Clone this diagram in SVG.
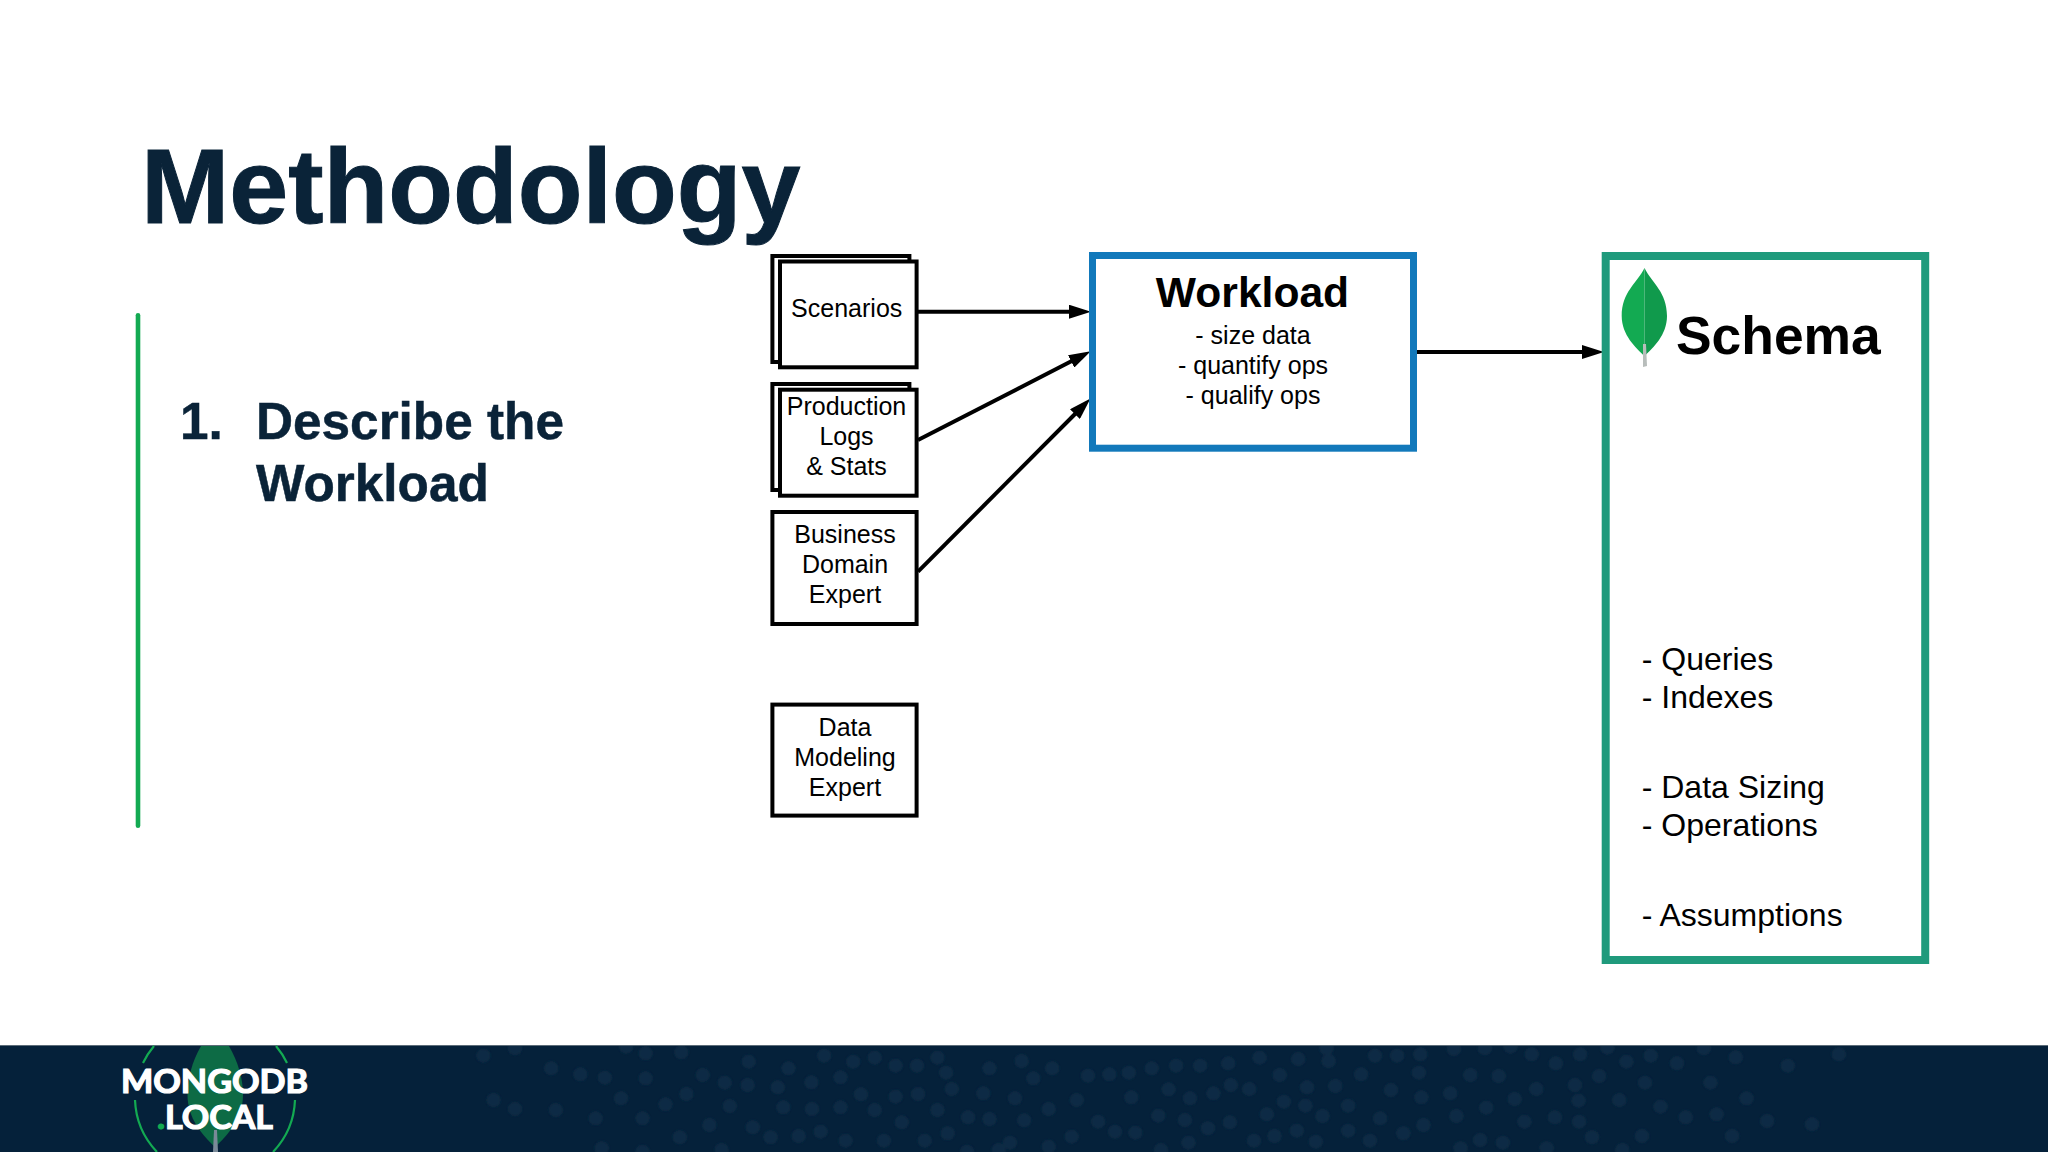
<svg xmlns="http://www.w3.org/2000/svg" width="2048" height="1152" viewBox="0 0 2048 1152">
<style>
text{font-family:"Liberation Sans",Arial,sans-serif;fill:#000}
.n{fill:#fff;stroke:#000;stroke-width:4}
.l{font-size:25px;text-anchor:middle}
.h{font-size:51.3px;font-weight:700;fill:#0a2338;stroke:#0a2338;stroke-width:.5}
.s{font-size:32px}
.c{fill:none;stroke:#000;stroke-width:4}
.a{marker-end:url(#arrow)}
.ring{fill:none;stroke:#13aa52;stroke-width:2.2}
.lg{font-family:Lato,"Open Sans",sans-serif;font-weight:700;font-size:32px;fill:#fff;stroke:#fff;stroke-width:1.2}
</style>
<defs>
<marker id="arrow" markerUnits="userSpaceOnUse" markerWidth="22" markerHeight="14" viewBox="0 0 22 14" refX="10" refY="7" orient="auto"><path d="M0 0L22 7L0 14Z" fill="#000"/></marker>
<ellipse id="d" rx="14" ry="21" fill="#0f2b44"/>
<filter id="soft" x="-5%" y="-20%" width="110%" height="140%"><feGaussianBlur stdDeviation="0.8"/></filter>
<clipPath id="foot"><rect x="0" y="1046" width="2048" height="106"/></clipPath>
</defs>
<rect width="2048" height="1152" fill="#fff"/>
<g id="title"><text x="141" y="223" font-size="106" font-weight="700" style="fill:#0a2338;stroke:#0a2338;stroke-width:1">Methodology</text></g>
<rect id="accent-bar" x="135.7" y="313" width="4.6" height="515" rx="2.3" fill="#13aa52"/>
<g id="step-text">
<text class="h" x="180" y="438.7">1.</text>
<text class="h" x="256" y="438.7">Describe the</text>
<text class="h" x="256" y="501">Workload</text>
</g>
<g id="connectors">
<line class="c a" x1="918" y1="311.7" x2="1079" y2="311.7"/>
<line class="c a" x1="918" y1="440" x2="1080" y2="356.8"/>
<line class="c a" x1="918" y1="571.7" x2="1082" y2="407"/>
<line class="c a" x1="1417" y1="352" x2="1592" y2="352"/>
</g>
<g id="node-scenarios">
<rect class="n" x="772.4" y="256" width="137" height="106"/>
<rect class="n" x="780" y="261.5" width="136.6" height="105.8"/>
<text class="l" x="846.7" y="317">Scenarios</text>
</g>
<g id="node-production">
<rect class="n" x="772.4" y="384" width="137" height="106"/>
<rect class="n" x="780" y="389.7" width="136.6" height="106"/>
<text class="l" x="846.5" y="415">Production</text>
<text class="l" x="846.5" y="445">Logs</text>
<text class="l" x="846.5" y="475">&amp; Stats</text>
</g>
<g id="node-business">
<rect class="n" x="772.4" y="512" width="144.2" height="112"/>
<text class="l" x="845" y="542.7">Business</text>
<text class="l" x="845" y="572.7">Domain</text>
<text class="l" x="845" y="602.7">Expert</text>
</g>
<g id="node-data-modeling">
<rect class="n" x="772.4" y="704.6" width="144.2" height="111"/>
<text class="l" x="845" y="735.5">Data</text>
<text class="l" x="845" y="765.5">Modeling</text>
<text class="l" x="845" y="795.5">Expert</text>
</g>
<g id="node-workload">
<rect x="1092.5" y="255.5" width="321" height="192.7" fill="#fff" stroke="#1279bb" stroke-width="7"/>
<text x="1252.5" y="306.7" font-size="42.6" font-weight="700" text-anchor="middle">Workload</text>
<text class="l" x="1253" y="344.3">- size data</text>
<text class="l" x="1253" y="374.3">- quantify ops</text>
<text class="l" x="1253" y="404.3">- qualify ops</text>
</g>
<g id="node-schema">
<rect x="1605.7" y="256" width="319.5" height="704" fill="#fff" stroke="#1f9a7c" stroke-width="8"/>
<path d="M1644.5 268C1637 283 1621.7 292 1621.7 316C1621.7 335 1636 348 1644.5 356Z" fill="#13aa52"/>
<path d="M1644.5 268C1652 283 1667 292 1667 316C1667 335 1653 348 1644.5 356Z" fill="#109a4c"/>
<path d="M1643 344L1646 344L1647 366L1643 367Z" fill="#b8bdbb"/>
<text x="1676" y="353.5" font-size="53.4" font-weight="700">Schema</text>
<text class="s" x="1641.7" y="670">- Queries</text>
<text class="s" x="1641.7" y="708">- Indexes</text>
<text class="s" x="1641.7" y="797.7">- Data Sizing</text>
<text class="s" x="1641.7" y="835.7">- Operations</text>
<text class="s" x="1641.7" y="925.7">- Assumptions</text>
</g>
<g id="footer">
<rect x="0" y="1045" width="2048" height="107" fill="#05213a"/>
<rect x="0" y="1045" width="2048" height="1" fill="#5c6c78"/>
<g clip-path="url(#foot)" filter="url(#soft)">
<g transform="translate(440,1035) scale(.5102,.3333)">
<use href="#d" x="85" y="62"/><use href="#d" x="147" y="40"/><use href="#d" x="218" y="100"/><use href="#d" x="275" y="118"/><use href="#d" x="323" y="128"/><use href="#d" x="403" y="130"/><use href="#d" x="403" y="55"/><use href="#d" x="473" y="52"/><use href="#d" x="365" y="35"/><use href="#d" x="605" y="80"/><use href="#d" x="683" y="100"/><use href="#d" x="515" y="120"/><use href="#d" x="558" y="143"/><use href="#d" x="603" y="150"/><use href="#d" x="662" y="157"/><use href="#d" x="728" y="142"/><use href="#d" x="785" y="127"/><use href="#d" x="753" y="62"/><use href="#d" x="810" y="80"/><use href="#d" x="852" y="68"/><use href="#d" x="893" y="92"/><use href="#d" x="935" y="92"/><use href="#d" x="975" y="68"/><use href="#d" x="992" y="113"/><use href="#d" x="1077" y="100"/><use href="#d" x="1140" y="78"/><use href="#d" x="1200" y="100"/><use href="#d" x="1163" y="130"/><use href="#d" x="1270" y="122"/><use href="#d" x="1312" y="118"/><use href="#d" x="1350" y="113"/><use href="#d" x="1395" y="100"/><use href="#d" x="1443" y="92"/><use href="#d" x="1490" y="92"/><use href="#d" x="1545" y="85"/><use href="#d" x="105" y="195"/><use href="#d" x="147" y="222"/><use href="#d" x="227" y="225"/><use href="#d" x="305" y="250"/><use href="#d" x="355" y="190"/><use href="#d" x="397" y="250"/><use href="#d" x="442" y="208"/><use href="#d" x="483" y="177"/><use href="#d" x="568" y="213"/><use href="#d" x="673" y="217"/><use href="#d" x="729" y="222"/><use href="#d" x="785" y="217"/><use href="#d" x="825" y="178"/><use href="#d" x="852" y="225"/><use href="#d" x="893" y="185"/><use href="#d" x="937" y="177"/><use href="#d" x="1003" y="162"/><use href="#d" x="1065" y="175"/><use href="#d" x="1127" y="190"/><use href="#d" x="975" y="225"/><use href="#d" x="905" y="262"/><use href="#d" x="1035" y="247"/><use href="#d" x="1077" y="252"/><use href="#d" x="1145" y="256"/><use href="#d" x="1193" y="222"/><use href="#d" x="1248" y="195"/><use href="#d" x="1290" y="260"/><use href="#d" x="1323" y="290"/><use href="#d" x="1363" y="293"/><use href="#d" x="1408" y="242"/><use href="#d" x="1460" y="255"/><use href="#d" x="1428" y="163"/><use href="#d" x="1470" y="190"/><use href="#d" x="1516" y="175"/><use href="#d" x="1355" y="187"/><use href="#d" x="1505" y="280"/><use href="#d" x="1548" y="262"/><use href="#d" x="528" y="270"/><use href="#d" x="613" y="277"/><use href="#d" x="648" y="307"/><use href="#d" x="703" y="303"/><use href="#d" x="746" y="290"/><use href="#d" x="795" y="317"/><use href="#d" x="870" y="317"/><use href="#d" x="950" y="317"/><use href="#d" x="995" y="295"/><use href="#d" x="1117" y="323"/><use href="#d" x="1238" y="305"/><use href="#d" x="470" y="307"/><use href="#d" x="317" y="340"/><use href="#d" x="397" y="350"/><use href="#d" x="552" y="345"/><use href="#d" x="1467" y="323"/><use href="#d" x="1413" y="345"/><use href="#d" x="1193" y="335"/><use href="#d" x="1033" y="350"/><use href="#d" x="1095" y="345"/><use href="#d" x="1550" y="150"/>
</g>
<g transform="translate(1240,1035) scale(.5153,.3333)">
<use href="#d" x="38" y="68"/><use href="#d" x="113" y="72"/><use href="#d" x="172" y="78"/><use href="#d" x="262" y="62"/><use href="#d" x="305" y="62"/><use href="#d" x="350" y="58"/><use href="#d" x="415" y="42"/><use href="#d" x="475" y="40"/><use href="#d" x="525" y="35"/><use href="#d" x="566" y="58"/><use href="#d" x="613" y="85"/><use href="#d" x="660" y="58"/><use href="#d" x="750" y="80"/><use href="#d" x="797" y="62"/><use href="#d" x="848" y="85"/><use href="#d" x="962" y="67"/><use href="#d" x="1063" y="92"/><use href="#d" x="1162" y="58"/><use href="#d" x="900" y="40"/><use href="#d" x="713" y="38"/><use href="#d" x="77" y="120"/><use href="#d" x="235" y="118"/><use href="#d" x="347" y="113"/><use href="#d" x="447" y="120"/><use href="#d" x="502" y="123"/><use href="#d" x="697" y="123"/><use href="#d" x="18" y="162"/><use href="#d" x="130" y="157"/><use href="#d" x="185" y="153"/><use href="#d" x="293" y="165"/><use href="#d" x="352" y="187"/><use href="#d" x="408" y="175"/><use href="#d" x="575" y="162"/><use href="#d" x="650" y="150"/><use href="#d" x="786" y="143"/><use href="#d" x="913" y="143"/><use href="#d" x="85" y="200"/><use href="#d" x="127" y="212"/><use href="#d" x="210" y="212"/><use href="#d" x="533" y="192"/><use href="#d" x="657" y="197"/><use href="#d" x="736" y="195"/><use href="#d" x="983" y="190"/><use href="#d" x="478" y="218"/><use href="#d" x="816" y="215"/><use href="#d" x="52" y="238"/><use href="#d" x="160" y="243"/><use href="#d" x="272" y="250"/><use href="#d" x="420" y="243"/><use href="#d" x="356" y="270"/><use href="#d" x="552" y="260"/><use href="#d" x="611" y="247"/><use href="#d" x="658" y="260"/><use href="#d" x="865" y="247"/><use href="#d" x="925" y="238"/><use href="#d" x="1023" y="258"/><use href="#d" x="1110" y="268"/><use href="#d" x="27" y="317"/><use href="#d" x="67" y="303"/><use href="#d" x="110" y="287"/><use href="#d" x="147" y="320"/><use href="#d" x="210" y="287"/><use href="#d" x="252" y="317"/><use href="#d" x="317" y="295"/><use href="#d" x="466" y="315"/><use href="#d" x="510" y="323"/><use href="#d" x="683" y="307"/><use href="#d" x="780" y="303"/><use href="#d" x="955" y="303"/><use href="#d" x="428" y="340"/><use href="#d" x="595" y="340"/><use href="#d" x="742" y="345"/><use href="#d" x="168" y="40"/>
</g>
</g>
<g id="logo">
<path d="M201 1046L229 1046C238 1062 243 1078 243 1095C243 1118 228 1135 215 1147C202 1135 187.5 1118 187.5 1095C187.5 1078 192 1062 201 1046Z" fill="#0d6b45"/>
<path d="M214 1130L217 1130L218 1152L213 1152Z" fill="#7a8a98"/>
<path class="ring" d="M143 1063A80 80 0 0 1 154 1046"/>
<path class="ring" d="M287 1063A80 80 0 0 0 276 1046"/>
<path class="ring" d="M135 1100A80 80 0 0 0 157 1152"/>
<path class="ring" d="M295 1100A80 80 0 0 1 273 1152"/>
<text class="lg" x="121" y="1092.7" textLength="187" lengthAdjust="spacingAndGlyphs">MONGODB</text>
<text class="lg" x="157" y="1128.7" textLength="116" lengthAdjust="spacingAndGlyphs"><tspan style="fill:#13aa52;stroke:#13aa52">.</tspan>LOCAL</text>
</g>
</g>
</svg>
